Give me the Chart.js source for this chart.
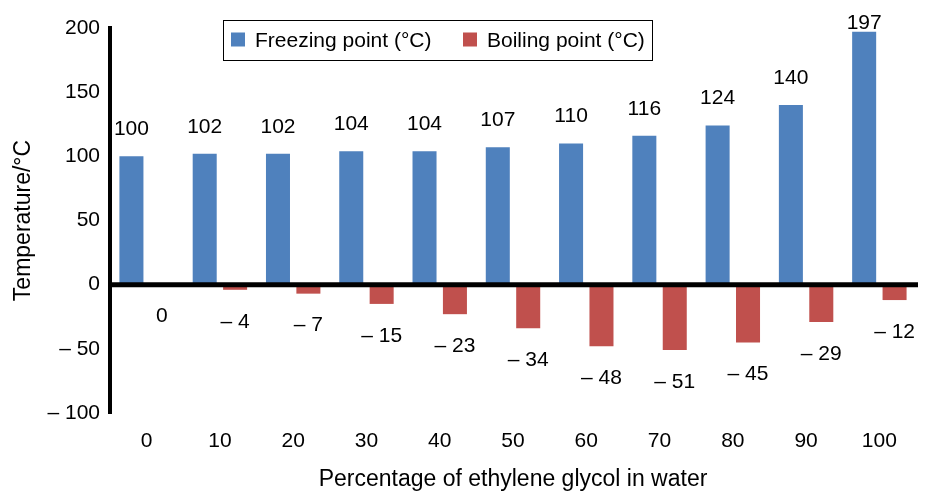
<!DOCTYPE html>
<html>
<head>
<meta charset="utf-8">
<script src="https://cdn.jsdelivr.net/npm/chart.js@4.4.1/dist/chart.umd.min.js"></script>
<style>
  html, body { margin: 0; padding: 0; background: #ffffff; }
  #wrap { width: 933px; height: 491px; position: relative; }
</style>
</head>
<body>
<div id="wrap"><canvas id="c"></canvas></div>
<script>
// Percentage of ethylene glycol in water
const categories = ['0', '10', '20', '30', '40', '50', '60', '70', '80', '90', '100'];
// Series values (°C)
const freezingPoint = [100, 102, 102, 104, 104, 107, 110, 116, 124, 140, 197];
const boilingPoint = [0, -4, -7, -15, -23, -34, -48, -51, -45, -29, -12];
// Y axis range and step
const yMin = -100;
const yMax = 200;
const yStep = 50;

const FONT = '"Liberation Sans", Arial, Helvetica, sans-serif';
const BLUE = '#4F81BD';
const RED = '#C0504D';

// Negative numbers are written with an en dash and a space, e.g. "– 50"
function fmt(v) {
  return v < 0 ? '\u2013 ' + Math.abs(v) : String(v);
}

// Heavy black baseline at zero, drawn over the bars
const zeroLine = {
  id: 'zeroLine',
  afterDatasetsDraw(chart) {
    const { ctx, chartArea, scales } = chart;
    const y0 = scales.y.getPixelForValue(0);
    ctx.save();
    ctx.strokeStyle = '#000';
    ctx.lineWidth = 5;
    ctx.beginPath();
    ctx.moveTo(chartArea.left - 2, y0);
    ctx.lineTo(chartArea.right + 2, y0);
    ctx.stroke();
    ctx.restore();
  }
};

// Value labels: above the blue bars, below the red bars
const valueLabels = {
  id: 'valueLabels',
  afterDatasetsDraw(chart) {
    const { ctx } = chart;
    ctx.save();
    ctx.font = '21px ' + FONT;
    ctx.fillStyle = '#000';
    ctx.textAlign = 'center';
    ctx.textBaseline = 'middle';
    chart.data.datasets.forEach((ds, di) => {
      const meta = chart.getDatasetMeta(di);
      meta.data.forEach((el, i) => {
        const v = ds.data[i];
        let y;
        if (di === 0) {
          y = Math.max(el.y - 27, 23);
        } else {
          y = el.y + 32;
        }
        ctx.fillText(fmt(v), el.x, y);
      });
    });
    ctx.restore();
  }
};

// Boxed legend sitting inside the plot near the top
const boxLegend = {
  id: 'boxLegend',
  afterDraw(chart) {
    const { ctx } = chart;
    const box = { x: 223.5, y: 20.5, w: 429, h: 40 };
    ctx.save();
    ctx.fillStyle = '#fff';
    ctx.fillRect(box.x, box.y, box.w, box.h);
    ctx.strokeStyle = '#000';
    ctx.lineWidth = 1;
    ctx.strokeRect(box.x, box.y, box.w, box.h);
    ctx.font = '21px ' + FONT;
    ctx.textBaseline = 'middle';
    ctx.textAlign = 'left';
    const cy = box.y + box.h / 2;
    const entries = [
      { x: 231, label: chart.data.datasets[0].label, color: chart.data.datasets[0].backgroundColor },
      { x: 463, label: chart.data.datasets[1].label, color: chart.data.datasets[1].backgroundColor }
    ];
    entries.forEach(e => {
      ctx.fillStyle = e.color;
      ctx.fillRect(e.x, cy - 8, 14, 14);
      ctx.fillStyle = '#000';
      ctx.fillText(e.label, e.x + 24, cy + 1);
    });
    ctx.restore();
  }
};

new Chart(document.getElementById('c'), {
  type: 'bar',
  data: {
    labels: categories,
    datasets: [
      {
        label: 'Freezing point (°C)',
        data: freezingPoint,
        backgroundColor: BLUE,
        categoryPercentage: 0.83,
        barPercentage: 0.79
      },
      {
        label: 'Boiling point (°C)',
        data: boilingPoint,
        backgroundColor: RED,
        categoryPercentage: 0.83,
        barPercentage: 0.79
      }
    ]
  },
  options: {
    responsive: true,
    maintainAspectRatio: false,
    animation: false,
    devicePixelRatio: 1,
    layout: { padding: { top: 28, right: 17, left: 0, bottom: 0 } },
    plugins: {
      legend: { display: false },
      tooltip: { enabled: false }
    },
    scales: {
      x: {
        grid: { display: false, drawTicks: false },
        border: { display: false },
        ticks: {
          color: '#000',
          font: { family: FONT, size: 21 },
          padding: 16,
          maxRotation: 0,
          autoSkip: false
        },
        title: {
          display: true,
          text: 'Percentage of ethylene glycol in water',
          color: '#000',
          font: { family: FONT, size: 23, lineHeight: 1 },
          padding: { top: 0, bottom: 0 }
        },
        afterFit(s) { s.height = 78; }
      },
      y: {
        min: yMin,
        max: yMax,
        grid: { display: false, drawTicks: false },
        border: { display: true, color: '#000', width: 4 },
        ticks: {
          stepSize: yStep,
          color: '#000',
          font: { family: FONT, size: 21 },
          padding: 10,
          callback: (v) => fmt(v)
        },
        title: {
          display: true,
          text: 'Temperature/°C',
          color: '#000',
          font: { family: FONT, size: 23 },
          padding: { top: 10, bottom: 0 }
        },
        afterFit(s) { s.width = 110; }
      }
    }
  },
  plugins: [zeroLine, valueLabels, boxLegend]
});
</script>
</body>
</html>
